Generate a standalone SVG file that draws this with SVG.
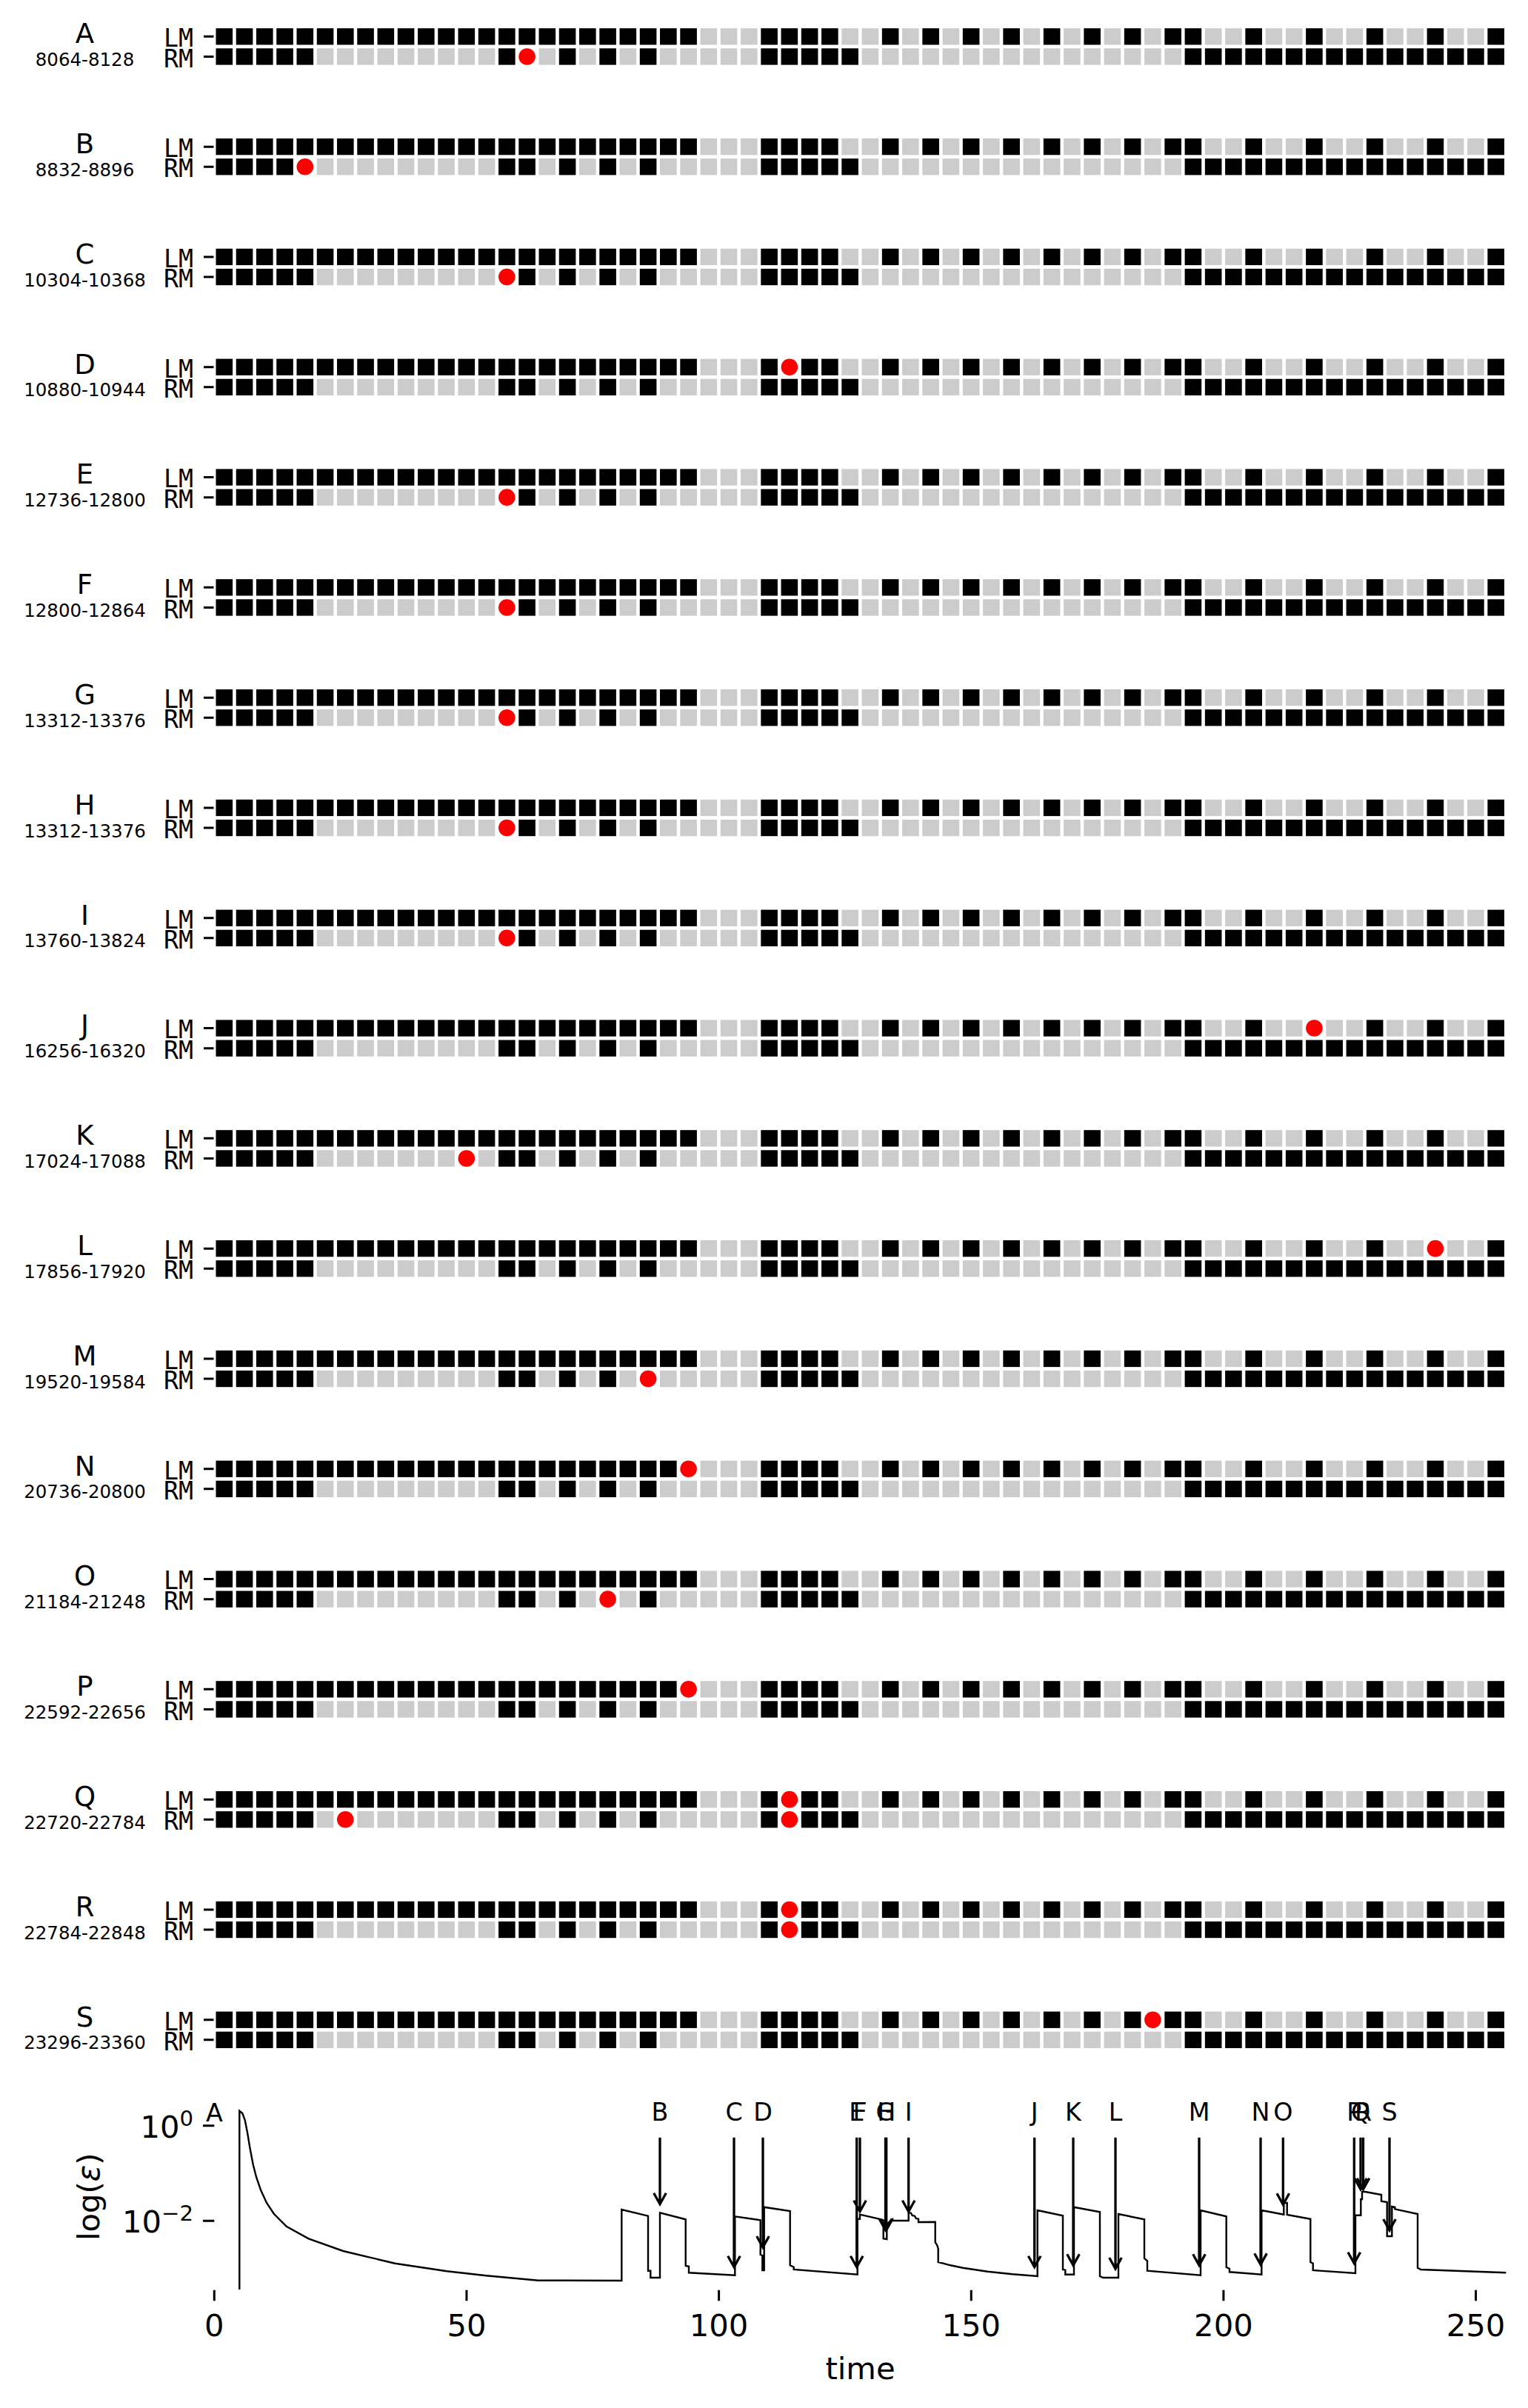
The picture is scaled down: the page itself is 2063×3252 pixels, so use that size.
<svg xmlns="http://www.w3.org/2000/svg" xmlns:xlink="http://www.w3.org/1999/xlink" width="2063" height="3252" viewBox="0 0 2063 3252">
<style>
.b{fill:#000}.g{fill:#ccc}.w{fill:#fff}.r{fill:#f00}
text{font-family:"DejaVu Sans","Liberation Sans",sans-serif;fill:#000}
.let{font-size:37px;text-anchor:middle}
.rng{font-size:24.5px;text-anchor:middle}
.ytl{font-family:"DejaVu Sans Mono","Liberation Mono",monospace;font-size:33.3px;text-anchor:end}
.tk{stroke:#000;stroke-width:3;fill:none}
.ann{font-size:33.3px;text-anchor:middle}
.tl{font-size:41.7px}
.mid{text-anchor:middle}
.end{text-anchor:end}
.curve{fill:none;stroke:#000;stroke-width:2.4;stroke-linejoin:miter}
.arr{fill:none;stroke:#000;stroke-width:3.3}
</style>
<defs>
<g id="rows">
<g transform="translate(0,38.2)">
<rect class="b" x="291.5" width="22.6" height="22.3"/><rect class="b" x="318.75" width="22.6" height="22.3"/><rect class="b" x="346" width="22.6" height="22.3"/><rect class="b" x="373.26" width="22.6" height="22.3"/><rect class="b" x="400.51" width="22.6" height="22.3"/><rect class="b" x="427.76" width="22.6" height="22.3"/><rect class="b" x="455.01" width="22.6" height="22.3"/><rect class="b" x="482.26" width="22.6" height="22.3"/><rect class="b" x="509.52" width="22.6" height="22.3"/><rect class="b" x="536.77" width="22.6" height="22.3"/><rect class="b" x="564.02" width="22.6" height="22.3"/><rect class="b" x="591.27" width="22.6" height="22.3"/><rect class="b" x="618.52" width="22.6" height="22.3"/><rect class="b" x="645.78" width="22.6" height="22.3"/><rect class="b" x="673.03" width="22.6" height="22.3"/><rect class="b" x="700.28" width="22.6" height="22.3"/><rect class="b" x="727.53" width="22.6" height="22.3"/><rect class="b" x="754.78" width="22.6" height="22.3"/><rect class="b" x="782.04" width="22.6" height="22.3"/><rect class="b" x="809.29" width="22.6" height="22.3"/><rect class="b" x="836.54" width="22.6" height="22.3"/><rect class="b" x="863.79" width="22.6" height="22.3"/><rect class="b" x="891.04" width="22.6" height="22.3"/><rect class="b" x="918.3" width="22.6" height="22.3"/><rect class="g" x="945.55" width="22.6" height="22.3"/><rect class="g" x="972.8" width="22.6" height="22.3"/><rect class="g" x="1000.05" width="22.6" height="22.3"/><rect class="b" x="1027.3" width="22.6" height="22.3"/><rect class="b" x="1054.56" width="22.6" height="22.3"/><rect class="b" x="1081.81" width="22.6" height="22.3"/><rect class="b" x="1109.06" width="22.6" height="22.3"/><rect class="g" x="1136.31" width="22.6" height="22.3"/><rect class="g" x="1163.56" width="22.6" height="22.3"/><rect class="b" x="1190.82" width="22.6" height="22.3"/><rect class="g" x="1218.07" width="22.6" height="22.3"/><rect class="b" x="1245.32" width="22.6" height="22.3"/><rect class="g" x="1272.57" width="22.6" height="22.3"/><rect class="b" x="1299.82" width="22.6" height="22.3"/><rect class="g" x="1327.08" width="22.6" height="22.3"/><rect class="b" x="1354.33" width="22.6" height="22.3"/><rect class="g" x="1381.58" width="22.6" height="22.3"/><rect class="b" x="1408.83" width="22.6" height="22.3"/><rect class="g" x="1436.08" width="22.6" height="22.3"/><rect class="b" x="1463.34" width="22.6" height="22.3"/><rect class="g" x="1490.59" width="22.6" height="22.3"/><rect class="b" x="1517.84" width="22.6" height="22.3"/><rect class="g" x="1545.09" width="22.6" height="22.3"/><rect class="b" x="1572.34" width="22.6" height="22.3"/><rect class="b" x="1599.6" width="22.6" height="22.3"/><rect class="g" x="1626.85" width="22.6" height="22.3"/><rect class="g" x="1654.1" width="22.6" height="22.3"/><rect class="b" x="1681.35" width="22.6" height="22.3"/><rect class="g" x="1708.6" width="22.6" height="22.3"/><rect class="g" x="1735.86" width="22.6" height="22.3"/><rect class="b" x="1763.11" width="22.6" height="22.3"/><rect class="g" x="1790.36" width="22.6" height="22.3"/><rect class="g" x="1817.61" width="22.6" height="22.3"/><rect class="b" x="1844.86" width="22.6" height="22.3"/><rect class="g" x="1872.12" width="22.6" height="22.3"/><rect class="g" x="1899.37" width="22.6" height="22.3"/><rect class="b" x="1926.62" width="22.6" height="22.3"/><rect class="g" x="1953.87" width="22.6" height="22.3"/><rect class="g" x="1981.12" width="22.6" height="22.3"/><rect class="b" x="2008.38" width="22.6" height="22.3"/>
</g>
<g transform="translate(0,65.3)">
<rect class="b" x="291.5" width="22.6" height="22.3"/><rect class="b" x="318.75" width="22.6" height="22.3"/><rect class="b" x="346" width="22.6" height="22.3"/><rect class="b" x="373.26" width="22.6" height="22.3"/><rect class="b" x="400.51" width="22.6" height="22.3"/><rect class="g" x="427.76" width="22.6" height="22.3"/><rect class="g" x="455.01" width="22.6" height="22.3"/><rect class="g" x="482.26" width="22.6" height="22.3"/><rect class="g" x="509.52" width="22.6" height="22.3"/><rect class="g" x="536.77" width="22.6" height="22.3"/><rect class="g" x="564.02" width="22.6" height="22.3"/><rect class="g" x="591.27" width="22.6" height="22.3"/><rect class="g" x="618.52" width="22.6" height="22.3"/><rect class="g" x="645.78" width="22.6" height="22.3"/><rect class="b" x="673.03" width="22.6" height="22.3"/><rect class="b" x="700.28" width="22.6" height="22.3"/><rect class="g" x="727.53" width="22.6" height="22.3"/><rect class="b" x="754.78" width="22.6" height="22.3"/><rect class="g" x="782.04" width="22.6" height="22.3"/><rect class="b" x="809.29" width="22.6" height="22.3"/><rect class="g" x="836.54" width="22.6" height="22.3"/><rect class="b" x="863.79" width="22.6" height="22.3"/><rect class="g" x="891.04" width="22.6" height="22.3"/><rect class="g" x="918.3" width="22.6" height="22.3"/><rect class="g" x="945.55" width="22.6" height="22.3"/><rect class="g" x="972.8" width="22.6" height="22.3"/><rect class="g" x="1000.05" width="22.6" height="22.3"/><rect class="b" x="1027.3" width="22.6" height="22.3"/><rect class="b" x="1054.56" width="22.6" height="22.3"/><rect class="b" x="1081.81" width="22.6" height="22.3"/><rect class="b" x="1109.06" width="22.6" height="22.3"/><rect class="b" x="1136.31" width="22.6" height="22.3"/><rect class="g" x="1163.56" width="22.6" height="22.3"/><rect class="g" x="1190.82" width="22.6" height="22.3"/><rect class="g" x="1218.07" width="22.6" height="22.3"/><rect class="g" x="1245.32" width="22.6" height="22.3"/><rect class="g" x="1272.57" width="22.6" height="22.3"/><rect class="g" x="1299.82" width="22.6" height="22.3"/><rect class="g" x="1327.08" width="22.6" height="22.3"/><rect class="g" x="1354.33" width="22.6" height="22.3"/><rect class="g" x="1381.58" width="22.6" height="22.3"/><rect class="g" x="1408.83" width="22.6" height="22.3"/><rect class="g" x="1436.08" width="22.6" height="22.3"/><rect class="g" x="1463.34" width="22.6" height="22.3"/><rect class="g" x="1490.59" width="22.6" height="22.3"/><rect class="g" x="1517.84" width="22.6" height="22.3"/><rect class="g" x="1545.09" width="22.6" height="22.3"/><rect class="g" x="1572.34" width="22.6" height="22.3"/><rect class="b" x="1599.6" width="22.6" height="22.3"/><rect class="b" x="1626.85" width="22.6" height="22.3"/><rect class="b" x="1654.1" width="22.6" height="22.3"/><rect class="b" x="1681.35" width="22.6" height="22.3"/><rect class="b" x="1708.6" width="22.6" height="22.3"/><rect class="b" x="1735.86" width="22.6" height="22.3"/><rect class="b" x="1763.11" width="22.6" height="22.3"/><rect class="b" x="1790.36" width="22.6" height="22.3"/><rect class="b" x="1817.61" width="22.6" height="22.3"/><rect class="b" x="1844.86" width="22.6" height="22.3"/><rect class="b" x="1872.12" width="22.6" height="22.3"/><rect class="b" x="1899.37" width="22.6" height="22.3"/><rect class="b" x="1926.62" width="22.6" height="22.3"/><rect class="b" x="1953.87" width="22.6" height="22.3"/><rect class="b" x="1981.12" width="22.6" height="22.3"/><rect class="b" x="2008.38" width="22.6" height="22.3"/>
</g>
<text class="ytl" x="261" y="63.3">LM</text>
<text class="ytl" x="261" y="90.5">RM</text>
<path class="tk" d="M275 49.35h13.5M275 76.45h13.5"/>
</g>
<g id="dot"><rect class="w" x="-12.3" y="-12.15" width="24.6" height="24.3"/><circle class="r" r="11.3"/></g>
</defs>
<rect width="2063" height="3252" fill="#fff"/>

<g id="block-A"><use href="#rows"/><text class="let" x="114.5" y="58.3">A</text><text class="rng" x="114.5" y="89">8064-8128</text><use href="#dot" x="711.58" y="76.45"/></g>
<g id="block-B" transform="translate(0,148.8)"><use href="#rows"/><text class="let" x="114.5" y="58.3">B</text><text class="rng" x="114.5" y="89">8832-8896</text><use href="#dot" x="411.81" y="76.45"/></g>
<g id="block-C" transform="translate(0,297.6)"><use href="#rows"/><text class="let" x="114.5" y="58.3">C</text><text class="rng" x="114.5" y="89">10304-10368</text><use href="#dot" x="684.33" y="76.45"/></g>
<g id="block-D" transform="translate(0,446.4)"><use href="#rows"/><text class="let" x="114.5" y="58.3">D</text><text class="rng" x="114.5" y="89">10880-10944</text><use href="#dot" x="1065.86" y="49.35"/></g>
<g id="block-E" transform="translate(0,595.2)"><use href="#rows"/><text class="let" x="114.5" y="58.3">E</text><text class="rng" x="114.5" y="89">12736-12800</text><use href="#dot" x="684.33" y="76.45"/></g>
<g id="block-F" transform="translate(0,744)"><use href="#rows"/><text class="let" x="114.5" y="58.3">F</text><text class="rng" x="114.5" y="89">12800-12864</text><use href="#dot" x="684.33" y="76.45"/></g>
<g id="block-G" transform="translate(0,892.8)"><use href="#rows"/><text class="let" x="114.5" y="58.3">G</text><text class="rng" x="114.5" y="89">13312-13376</text><use href="#dot" x="684.33" y="76.45"/></g>
<g id="block-H" transform="translate(0,1041.6)"><use href="#rows"/><text class="let" x="114.5" y="58.3">H</text><text class="rng" x="114.5" y="89">13312-13376</text><use href="#dot" x="684.33" y="76.45"/></g>
<g id="block-I" transform="translate(0,1190.4)"><use href="#rows"/><text class="let" x="114.5" y="58.3">I</text><text class="rng" x="114.5" y="89">13760-13824</text><use href="#dot" x="684.33" y="76.45"/></g>
<g id="block-J" transform="translate(0,1339.2)"><use href="#rows"/><text class="let" x="114.5" y="58.3">J</text><text class="rng" x="114.5" y="89">16256-16320</text><use href="#dot" x="1774.41" y="49.35"/></g>
<g id="block-K" transform="translate(0,1488)"><use href="#rows"/><text class="let" x="114.5" y="58.3">K</text><text class="rng" x="114.5" y="89">17024-17088</text><use href="#dot" x="629.82" y="76.45"/></g>
<g id="block-L" transform="translate(0,1636.8)"><use href="#rows"/><text class="let" x="114.5" y="58.3">L</text><text class="rng" x="114.5" y="89">17856-17920</text><use href="#dot" x="1937.92" y="49.35"/></g>
<g id="block-M" transform="translate(0,1785.6)"><use href="#rows"/><text class="let" x="114.5" y="58.3">M</text><text class="rng" x="114.5" y="89">19520-19584</text><use href="#dot" x="875.09" y="76.45"/></g>
<g id="block-N" transform="translate(0,1934.4)"><use href="#rows"/><text class="let" x="114.5" y="58.3">N</text><text class="rng" x="114.5" y="89">20736-20800</text><use href="#dot" x="929.6" y="49.35"/></g>
<g id="block-O" transform="translate(0,2083.2)"><use href="#rows"/><text class="let" x="114.5" y="58.3">O</text><text class="rng" x="114.5" y="89">21184-21248</text><use href="#dot" x="820.59" y="76.45"/></g>
<g id="block-P" transform="translate(0,2232)"><use href="#rows"/><text class="let" x="114.5" y="58.3">P</text><text class="rng" x="114.5" y="89">22592-22656</text><use href="#dot" x="929.6" y="49.35"/></g>
<g id="block-Q" transform="translate(0,2380.8)"><use href="#rows"/><text class="let" x="114.5" y="58.3">Q</text><text class="rng" x="114.5" y="89">22720-22784</text><use href="#dot" x="1065.86" y="49.35"/><use href="#dot" x="1065.86" y="76.45"/><use href="#dot" x="466.31" y="76.45"/></g>
<g id="block-R" transform="translate(0,2529.6)"><use href="#rows"/><text class="let" x="114.5" y="58.3">R</text><text class="rng" x="114.5" y="89">22784-22848</text><use href="#dot" x="1065.86" y="49.35"/><use href="#dot" x="1065.86" y="76.45"/></g>
<g id="block-S" transform="translate(0,2678.4)"><use href="#rows"/><text class="let" x="114.5" y="58.3">S</text><text class="rng" x="114.5" y="89">23296-23360</text><use href="#dot" x="1556.39" y="49.35"/></g>

<g id="error-plot">
<path class="tk" d="M274 2870.7h15.3M274 2999.3h15.3M289.3 3092.7v14.6M629.95 3092.7v14.6M970.6 3092.7v14.6M1311.25 3092.7v14.6M1651.9 3092.7v14.6M1992.55 3092.7v14.6"/>
<text class="tl end" x="261" y="2887">10<tspan font-size="29.2px" dy="-16">0</tspan></text>
<text class="tl end" x="261" y="3014.5">10<tspan font-size="29.2px" dy="-16">−2</tspan></text>
<text class="tl mid" x="289.3" y="3155">0</text>
<text class="tl mid" x="629.95" y="3155">50</text>
<text class="tl mid" x="970.6" y="3155">100</text>
<text class="tl mid" x="1311.25" y="3155">150</text>
<text class="tl mid" x="1651.9" y="3155">200</text>
<text class="tl mid" x="1992.55" y="3155">250</text>
<text class="tl mid" x="1161.5" y="3213">time</text>
<text class="tl mid" transform="translate(134,2966.7) rotate(-90)">log(<tspan font-style="italic">ε</tspan>)</text>
<polyline class="curve" points="323.3,3092 323.3,2850.7 327.3,2854 330.7,2863.3 334,2880 337.3,2900 341.7,2923.3 346,2940 351.7,2956.7 360,2975 370,2990 386.7,3006.7 416.7,3023.3 463.3,3040 533.3,3056.7 603.3,3067.3 656.7,3073.3 726.7,3079.7 839.3,3080 839.3,2984 875,2992.7 875,3066.7 878.3,3066.7 878.3,3076 891,3076 891,2988.3 925.7,2997.3 925.7,3060 930,3060.7 930,3069.3 992.3,3072.7 992.3,2993.3 1026.7,2998.3 1026.7,3045 1029.3,3046 1029.3,3066 1031.7,3066 1031.7,2980.7 1066.7,2986 1066.7,3059.3 1071.7,3061.7 1071.7,3065 1157.7,3071.7 1157.7,2996.7 1161,2996.7 1161,2990.7 1164,2991.3 1190,2997.3 1192.7,2998.3 1192.7,3023.3 1197.3,3024 1197.3,3003.3 1201.7,3000 1205,2997.3 1205,2999 1226.7,2999 1226.7,2988 1230,2988.7 1231.7,2992 1235,2992.7 1236.7,2996 1240,2996.7 1240,3001 1262.7,3000.7 1262.7,3028.3 1265,3031.7 1266.7,3036.7 1266.7,3055 1283.3,3059.3 1300,3062.7 1333.3,3067.7 1366.7,3071.3 1400.7,3074 1400.7,2985 1435,2992.3 1435,3065 1438.3,3065.7 1438.3,3071.7 1450,3071.7 1450,2980.7 1485,2987.3 1485,3074 1489.3,3076 1510,3076 1510,2990 1545,2997.3 1545,3050 1549,3053.3 1549,3066.7 1621,3072.7 1621,2985 1655.7,2993.3 1655.7,3061.7 1660,3064 1660,3068.3 1703.3,3071.7 1703.3,2985 1733.3,2990.7 1733.3,2975 1737.7,2975 1737.7,2991 1769.3,2996.7 1769.3,3055 1772.7,3056.7 1772.7,3066 1830,3070 1830,2991.7 1837.3,2991.7 1837.3,2970 1839,2970 1839,2960 1843.3,2960 1865,2964 1865,2972.7 1872.7,2974 1872.7,3020 1879.3,3020 1879.3,2980 1883.3,2980.7 1883.3,2983.3 1914,2990 1914,3062.7 1918.3,3065 2033.3,3069.3"/>
<g id="labels">
<text class="ann" x="289.3" y="2865">A</text>
<text class="ann" x="891" y="2864">B</text>
<text class="ann" x="991" y="2864">C</text>
<text class="ann" x="1030" y="2864">D</text>
<text class="ann" x="1156.7" y="2864">E</text>
<text class="ann" x="1161" y="2864">F</text>
<text class="ann" x="1195.5" y="2864">G</text>
<text class="ann" x="1196.7" y="2864">H</text>
<text class="ann" x="1226.7" y="2864">I</text>
<text class="ann" x="1396.7" y="2864">J</text>
<text class="ann" x="1449" y="2864">K</text>
<text class="ann" x="1506" y="2864">L</text>
<text class="ann" x="1619" y="2864">M</text>
<text class="ann" x="1702" y="2864">N</text>
<text class="ann" x="1732.3" y="2864">O</text>
<text class="ann" x="1828.3" y="2864">P</text>
<text class="ann" x="1837" y="2864">Q</text>
<text class="ann" x="1840.5" y="2864">R</text>
<text class="ann" x="1876" y="2864">S</text>
</g>
</g>
<g id="connectors">
<path class="arr" d="M891 2886.7V2976.7M882.7 2961.7L891 2976.7L899.3 2961.7"/>
<path class="arr" d="M991 2886.7V3061.7M982.7 3046.7L991 3061.7L999.3 3046.7"/>
<path class="arr" d="M1030 2886.7V3035M1021.7 3020L1030 3035L1038.3 3020"/>
<path class="arr" d="M1156.7 2886.7V3061.7M1148.4 3046.7L1156.7 3061.7L1165 3046.7"/>
<path class="arr" d="M1161 2886.7V2986.7M1152.7 2971.7L1161 2986.7L1169.3 2971.7"/>
<path class="arr" d="M1195.5 2886.7V3011.7M1187.2 2996.7L1195.5 3011.7L1203.8 2996.7"/>
<path class="arr" d="M1196.7 2886.7V3011.7M1188.4 2996.7L1196.7 3011.7L1205 2996.7"/>
<path class="arr" d="M1226.7 2886.7V2986.7M1218.4 2971.7L1226.7 2986.7L1235 2971.7"/>
<path class="arr" d="M1396.7 2886.7V3061.7M1388.4 3046.7L1396.7 3061.7L1405 3046.7"/>
<path class="arr" d="M1449 2886.7V3059.3M1440.7 3044.3L1449 3059.3L1457.3 3044.3"/>
<path class="arr" d="M1506 2886.7V3064M1497.7 3049L1506 3064L1514.3 3049"/>
<path class="arr" d="M1619 2886.7V3059.3M1610.7 3044.3L1619 3059.3L1627.3 3044.3"/>
<path class="arr" d="M1702 2886.7V3058.3M1693.7 3043.3L1702 3058.3L1710.3 3043.3"/>
<path class="arr" d="M1732.3 2886.7V2977.3M1724 2962.3L1732.3 2977.3L1740.6 2962.3"/>
<path class="arr" d="M1828.3 2886.7V3056.7M1820 3041.7L1828.3 3056.7L1836.6 3041.7"/>
<path class="arr" d="M1837 2886.7V2956.7M1828.7 2941.7L1837 2956.7L1845.3 2941.7"/>
<path class="arr" d="M1840.5 2886.7V2956.7M1832.2 2941.7L1840.5 2956.7L1848.8 2941.7"/>
<path class="arr" d="M1876 2886.7V3012M1867.7 2997L1876 3012L1884.3 2997"/>
</g>
</svg>
